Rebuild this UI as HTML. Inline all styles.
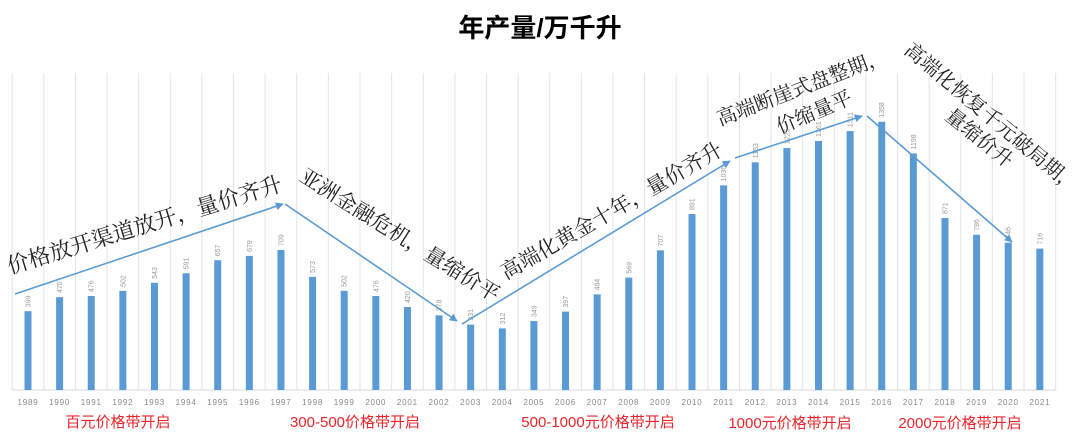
<!DOCTYPE html>
<html><head><meta charset="utf-8"><style>
html,body{margin:0;padding:0;background:#fff;}
svg{display:block;}
</style></head><body>
<svg width="1080" height="438" viewBox="0 0 1080 438" xmlns="http://www.w3.org/2000/svg">
<defs><marker id="ah" viewBox="0 0 10 10" refX="9" refY="5" markerWidth="5" markerHeight="5" orient="auto"><path d="M0,0 L10,5 L0,10 z" fill="#5b9bd5"/></marker></defs>
<text x="540" y="37" text-anchor="middle" font-family="Liberation Sans, Noto Sans CJK SC, sans-serif" font-size="26" font-weight="bold" fill="#000">年产量/万千升</text>
<g id="chart"></g>
<g font-family="Liberation Sans, Noto Sans CJK SC, sans-serif" font-size="15" fill="#e8262b" text-anchor="middle">
<text x="118" y="427">百元价格带开启</text>
<text x="355" y="427">300-500价格带开启</text>
<text x="598" y="427">500-1000元价格带开启</text>
<text x="790" y="428">1000元价格带开启</text>
<text x="960" y="428">2000元价格带开启</text>
</g>
<g stroke="#5b9bd5" stroke-width="1.6" fill="none" marker-end="url(#ah)">
<line x1="15" y1="294" x2="283" y2="204"/>
<line x1="285" y1="204" x2="457" y2="321"/>
<line x1="462" y1="324" x2="730" y2="161"/>
<line x1="735" y1="158" x2="862" y2="116"/>
<line x1="867" y1="116" x2="1012" y2="242"/>
</g>
<g font-family="Noto Serif CJK SC, Liberation Serif, serif" fill="#222">
<text font-size="22" transform="translate(10,274) rotate(-17)">价格放开渠道放开，量价齐升</text>
<text font-size="21" transform="translate(298,180) rotate(32)">亚洲金融危机，量缩价平</text>
<text font-size="21" transform="translate(506,280) rotate(-30)">高端化黄金十年，量价齐升</text>
<text font-size="20" transform="translate(720,126) rotate(-21)">高端断崖式盘整期，</text>
<text font-size="20" transform="translate(780,134) rotate(-23)">价缩量平</text>
<text font-size="20" transform="translate(903,52) rotate(40)">高端化恢复千元破局期，</text>
<text font-size="20" transform="translate(944,118) rotate(39)">量缩价升</text>
</g>
</svg>
<script>
const v=[399,470,476,502,543,591,657,679,709,573,502,476,420,378,331,312,349,397,484,569,707,891,1036,1153,1225,1261,1311,1358,1198,871,786,746,716];
const g=document.getElementById('chart');let s='';
const x0=28,dx=31.62,base=390,k=0.1975;
for(let i=0;i<=33;i++){const x=x0-dx/2+i*dx;s+=`<line x1="${x}" y1="73" x2="${x}" y2="${base}" stroke="#e4e4e4" stroke-width="1"/>`;}
s+=`<line x1="${x0-dx/2}" y1="${base}" x2="${x0-dx/2+33*dx}" y2="${base}" stroke="#d8d8d8" stroke-width="1"/>`;
v.forEach((val,i)=>{const x=x0+i*dx,h=val*k;
s+=`<rect x="${x-3.5}" y="${base-h}" width="7" height="${h}" fill="#5b9bd5"/>`;
s+=`<text transform="translate(${x+2.5},${base-h-4}) rotate(-90)" font-family="Liberation Sans,sans-serif" font-size="7" fill="#999">${val}</text>`;
s+=`<text x="${x}" y="405" text-anchor="middle" font-family="Liberation Sans,sans-serif" font-size="8" letter-spacing="0.8" fill="#888">${1989+i}</text>`;});
g.innerHTML=s;
</script>
</body></html>
